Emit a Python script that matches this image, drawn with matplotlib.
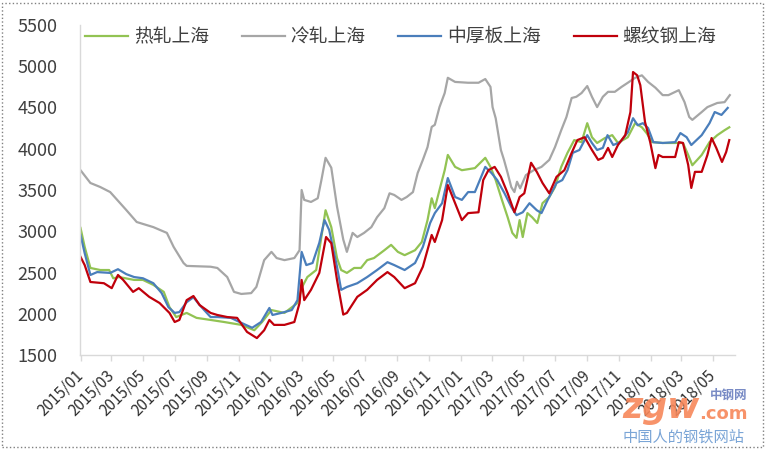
import numpy as np
import pandas as pd
import matplotlib
matplotlib.use("Agg")
import matplotlib.pyplot as plt
import matplotlib.dates as mdates
from matplotlib.patches import Rectangle

plt.rcParams['font.family'] = ['Noto Sans CJK SC', 'DejaVu Sans']

# 热轧上海
hot_dates = ["2015-01-01", "2015-01-09", "2015-01-20", "2015-02-08", "2015-02-25", "2015-03-05", "2015-03-16",
             "2015-04-14", "2015-05-01", "2015-05-21", "2015-06-10", "2015-06-21", "2015-07-04", "2015-07-24",
             "2015-08-12", "2015-09-08", "2015-10-04", "2015-11-06", "2015-12-01", "2015-12-16", "2016-01-03",
             "2016-01-28", "2016-02-22", "2016-03-02", "2016-03-12", "2016-03-29", "2016-04-16", "2016-04-27",
             "2016-05-08", "2016-05-16", "2016-05-27", "2016-06-10", "2016-06-23", "2016-07-05", "2016-07-18",
             "2016-08-07", "2016-08-20", "2016-09-02", "2016-09-15", "2016-10-05", "2016-10-18", "2016-10-29",
             "2016-11-06", "2016-11-12", "2016-11-21", "2016-12-01", "2016-12-07", "2016-12-21", "2017-01-03",
             "2017-01-28", "2017-02-17", "2017-02-27", "2017-03-09", "2017-03-21", "2017-04-01", "2017-04-10",
             "2017-04-18", "2017-04-24", "2017-04-30", "2017-05-09", "2017-05-18", "2017-05-28", "2017-06-07",
             "2017-06-20", "2017-07-01", "2017-07-13", "2017-07-25", "2017-08-07", "2017-08-21", "2017-09-01",
             "2017-09-10", "2017-09-20", "2017-10-05", "2017-10-19", "2017-10-30", "2017-11-18", "2017-12-02",
             "2017-12-15", "2017-12-24", "2018-01-04", "2018-01-24", "2018-03-04", "2018-03-14", "2018-03-22",
             "2018-04-09", "2018-04-24", "2018-05-09", "2018-05-23", "2018-06-01"]
hot_vals = [3040, 2810, 2555, 2530, 2530, 2430, 2445,
            2410, 2410, 2350, 2265, 2080, 1960, 2010,
            1950, 1925, 1900, 1865, 1800, 1900, 2045,
            2010, 2130, 2325, 2445, 2530, 3255, 3050,
            2675, 2530, 2495, 2555, 2555, 2650, 2675,
            2770, 2835, 2750, 2710, 2770, 2870, 3135,
            3400, 3280, 3500, 3740, 3925, 3780, 3740,
            3765, 3890, 3780, 3620, 3380, 3170, 2980,
            2920, 3135, 2930, 3220, 3170, 3100, 3340,
            3415, 3535, 3780, 3950, 4105, 4080, 4310,
            4140, 4070, 4130, 4165, 4070, 4140, 4310,
            4260, 4190, 4080, 4070, 4070, 3925, 3800,
            3925, 4080, 4165, 4225, 4260]

# 冷轧上海
cold_dates = ["2015-01-01", "2015-01-20", "2015-02-08", "2015-02-27", "2015-03-30", "2015-04-19", "2015-05-21",
              "2015-06-16", "2015-06-29", "2015-07-18", "2015-07-24", "2015-09-08", "2015-09-21", "2015-10-10",
              "2015-10-23", "2015-11-06", "2015-11-25", "2015-12-05", "2015-12-20", "2016-01-03", "2016-01-13",
              "2016-01-28", "2016-02-16", "2016-02-26", "2016-03-01", "2016-03-06", "2016-03-19", "2016-04-01",
              "2016-04-08", "2016-04-16", "2016-04-27", "2016-05-08", "2016-05-20", "2016-05-27", "2016-06-07",
              "2016-06-16", "2016-06-29", "2016-07-13", "2016-07-24", "2016-08-07", "2016-08-17", "2016-08-26",
              "2016-09-09", "2016-09-19", "2016-10-01", "2016-10-10", "2016-10-20", "2016-10-29", "2016-11-06",
              "2016-11-12", "2016-11-21", "2016-12-01", "2016-12-07", "2016-12-21", "2017-01-15", "2017-02-04",
              "2017-02-17", "2017-02-27", "2017-03-03", "2017-03-09", "2017-03-19", "2017-03-25", "2017-04-01",
              "2017-04-08", "2017-04-14", "2017-04-19", "2017-04-25", "2017-05-06", "2017-05-21", "2017-06-05",
              "2017-06-20", "2017-07-01", "2017-07-13", "2017-07-23", "2017-08-02", "2017-08-11", "2017-08-21",
              "2017-09-01", "2017-09-10", "2017-09-20", "2017-10-01", "2017-10-11", "2017-10-24", "2017-11-06",
              "2017-11-18", "2017-12-02", "2017-12-15", "2017-12-27", "2018-01-10", "2018-01-24", "2018-02-04",
              "2018-02-24", "2018-03-07", "2018-03-16", "2018-03-22", "2018-04-09", "2018-04-20", "2018-05-09",
              "2018-05-23", "2018-06-02"]
cold_vals = [3740, 3585, 3536, 3475, 3257, 3112, 3050,
             2980, 2810, 2615, 2580, 2570, 2555, 2445,
             2265, 2240, 2250, 2325, 2650, 2750, 2675,
             2650, 2675, 2770, 3500, 3380, 3355, 3400,
             3620, 3890, 3770, 3300, 2900, 2750, 2980,
             2930, 2980, 3050, 3170, 3280, 3460, 3440,
             3380, 3415, 3475, 3705, 3865, 4020, 4265,
             4290, 4505, 4675, 4860, 4810, 4800, 4800,
             4845, 4750, 4505, 4370, 3985, 3865, 3705,
             3535, 3475, 3600, 3520, 3680, 3740, 3780,
             3865, 4020, 4225, 4385, 4615, 4630, 4675,
             4760, 4630, 4505, 4630, 4690, 4690, 4750,
             4800, 4860, 4890, 4810, 4740, 4650, 4650,
             4710, 4565, 4385, 4350, 4445, 4505, 4555,
             4565, 4650]

# 中厚板上海
plate_dates = ["2015-01-01", "2015-01-09", "2015-01-20", "2015-02-02", "2015-02-27", "2015-03-14", "2015-03-30",
               "2015-04-14", "2015-05-01", "2015-05-21", "2015-06-06", "2015-06-19", "2015-07-01", "2015-07-10",
               "2015-07-24", "2015-08-06", "2015-08-18", "2015-09-08", "2015-09-21", "2015-10-17", "2015-11-06",
               "2015-11-27", "2015-12-14", "2015-12-30", "2016-01-05", "2016-01-22", "2016-02-11", "2016-02-22",
               "2016-03-01", "2016-03-10", "2016-03-22", "2016-04-04", "2016-04-14", "2016-04-23", "2016-05-08",
               "2016-05-16", "2016-05-27", "2016-06-16", "2016-07-05", "2016-07-24", "2016-08-13", "2016-08-26",
               "2016-09-15", "2016-10-05", "2016-10-20", "2016-11-03", "2016-11-12", "2016-11-26", "2016-12-07",
               "2016-12-21", "2017-01-03", "2017-01-15", "2017-01-28", "2017-02-17", "2017-03-01", "2017-03-12",
               "2017-03-26", "2017-04-08", "2017-04-18", "2017-04-30", "2017-05-13", "2017-05-27", "2017-06-05",
               "2017-06-17", "2017-07-04", "2017-07-15", "2017-07-25", "2017-08-04", "2017-08-17", "2017-09-01",
               "2017-09-10", "2017-09-20", "2017-10-01", "2017-10-10", "2017-10-21", "2017-11-03", "2017-11-18",
               "2017-11-28", "2017-12-07", "2017-12-17", "2017-12-27", "2018-01-06", "2018-01-24", "2018-02-17",
               "2018-02-27", "2018-03-11", "2018-03-20", "2018-04-09", "2018-04-24", "2018-05-04", "2018-05-17",
               "2018-05-29"]
plate_vals = [2955, 2735, 2470, 2505, 2495, 2540, 2480,
              2445, 2430, 2370, 2250, 2080, 2010, 2020,
              2140, 2200, 2105, 1960, 1960, 1950, 1890,
              1830, 1900, 2070, 1985, 2010, 2045, 2165,
              2750, 2590, 2615, 2860, 3135, 3015, 2570,
              2290, 2325, 2370, 2445, 2530, 2625, 2590,
              2530, 2615, 2810, 3100, 3220, 3340, 3645,
              3415, 3380, 3475, 3475, 3780, 3705, 3620,
              3460, 3295, 3195, 3230, 3340, 3255, 3220,
              3380, 3585, 3620, 3740, 3950, 3985, 4165,
              4070, 3985, 4010, 4165, 4045, 4080, 4200,
              4370, 4285, 4310, 4250, 4080, 4070, 4080,
              4190, 4140, 4045, 4165, 4310, 4445, 4410,
              4495]

# 螺纹钢上海
rebar_dates = ["2015-01-01", "2015-01-09", "2015-01-20", "2015-02-15", "2015-03-02", "2015-03-14", "2015-03-24",
               "2015-04-12", "2015-04-23", "2015-05-13", "2015-06-02", "2015-06-21", "2015-07-01", "2015-07-10",
               "2015-07-24", "2015-08-06", "2015-08-18", "2015-09-08", "2015-09-21", "2015-10-10", "2015-10-29",
               "2015-11-17", "2015-12-06", "2015-12-20", "2015-12-30", "2016-01-08", "2016-01-28", "2016-02-16",
               "2016-02-26", "2016-03-01", "2016-03-06", "2016-03-19", "2016-04-04", "2016-04-17", "2016-04-27",
               "2016-05-08", "2016-05-20", "2016-05-27", "2016-06-16", "2016-07-05", "2016-07-24", "2016-08-13",
               "2016-08-26", "2016-09-15", "2016-10-05", "2016-10-20", "2016-11-06", "2016-11-12", "2016-11-26",
               "2016-12-07", "2016-12-21", "2017-01-03", "2017-01-15", "2017-02-04", "2017-02-13", "2017-02-23",
               "2017-03-07", "2017-03-19", "2017-04-01", "2017-04-14", "2017-04-24", "2017-05-03", "2017-05-16",
               "2017-05-27", "2017-06-07", "2017-06-20", "2017-07-04", "2017-07-19", "2017-08-02", "2017-08-13",
               "2017-08-27", "2017-09-10", "2017-09-22", "2017-10-01", "2017-10-11", "2017-10-19", "2017-10-30",
               "2017-11-13", "2017-11-23", "2017-11-28", "2017-12-06", "2017-12-12", "2017-12-21", "2017-12-31",
               "2018-01-10", "2018-01-16", "2018-01-24", "2018-02-17", "2018-02-24", "2018-03-04", "2018-03-14",
               "2018-03-20", "2018-03-27", "2018-04-09", "2018-04-20", "2018-04-28", "2018-05-07", "2018-05-18",
               "2018-05-26", "2018-06-01"]
rebar_vals = [2690, 2590, 2385, 2370, 2310, 2470, 2410,
              2265, 2310, 2205, 2130, 2010, 1900, 1925,
              2165, 2215, 2105, 2010, 1985, 1960, 1950,
              1780, 1705, 1800, 1925, 1865, 1865, 1900,
              2130, 2410, 2165, 2290, 2495, 2930, 2855,
              2410, 1990, 2010, 2205, 2290, 2410, 2505,
              2445, 2310, 2370, 2570, 2955, 2870, 3135,
              3560, 3340, 3135, 3220, 3230, 3620, 3740,
              3780, 3660, 3460, 3230, 3415, 3460, 3830,
              3720, 3585, 3460, 3660, 3740, 3950, 4105,
              4140, 3985, 3865, 3890, 4010, 3900, 4045,
              4165, 4445, 4930, 4890, 4770, 4325, 4080,
              3765, 3925, 3900, 3900, 4080, 4070, 3805,
              3525, 3720, 3720, 3925, 4130, 4010, 3840,
              3960, 4105]

series_names = ["热轧上海", "冷轧上海", "中厚板上海", "螺纹钢上海"]
series_colors = ["#92C353", "#A6A6A6", "#4A7EBB", "#C0000B"]
tick_months = pd.date_range("2015-01-01", "2018-05-01", freq="2MS")

fig = plt.figure(figsize=(7.66, 4.5), dpi=100)
ax = fig.add_axes([80 / 766, 1 - 355 / 450, 655 / 766, 330 / 450])

all_dates = [hot_dates, cold_dates, plate_dates, rebar_dates]
all_vals = [hot_vals, cold_vals, plate_vals, rebar_vals]
for d, v, name, c in zip(all_dates, all_vals, series_names, series_colors):
    ax.plot(pd.to_datetime(d), v, color=c, lw=1.6, label=name, solid_joinstyle='round')

ax.set_ylim(1500, 5500)
ax.set_yticks(np.arange(1500, 5501, 500))
ax.set_xlim(pd.Timestamp("2014-12-31"), pd.Timestamp("2018-06-12"))
ax.set_xticks(mdates.date2num(tick_months))
ax.set_xticklabels([t.strftime("%Y/%m") for t in tick_months], rotation=45,
                   ha="right", va="center", rotation_mode="anchor")

for s in ["top", "right"]:
    ax.spines[s].set_visible(False)
for s in ["left", "bottom"]:
    ax.spines[s].set_color("#D9D9D9")
    ax.spines[s].set_linewidth(1.0)

ax.tick_params(axis="y", length=0, pad=16, labelsize=13, labelcolor="#404040")
ax.tick_params(axis="x", length=4, width=1, color="#D9D9D9", pad=9, labelsize=11, labelcolor="#303030")

leg = ax.legend(loc="center left", bbox_to_anchor=(0.008, 0.964), ncol=4, frameon=False,
                fontsize=13.5, handlelength=2.3, handletextpad=0.3, columnspacing=1.75,
                borderpad=0, borderaxespad=0)
for t in leg.get_texts():
    t.set_color("#404040")

# watermark
fig.text(622 / 766, 1 - 408 / 450, "zgw", color="#F7875A", fontsize=25, fontweight="bold",
         style="italic", va="center", ha="left", alpha=0.9, family="DejaVu Sans")
fig.text(699 / 766, 1 - 414 / 450, ".com", color="#F7875A", fontsize=13, fontweight="bold",
         va="center", ha="left", alpha=0.9, family="DejaVu Sans")
fig.text(747 / 766, 1 - 395 / 450, "中钢网", color="#6A7FBF", fontsize=9, fontweight="bold",
         va="center", ha="right", alpha=0.9)
fig.text(745 / 766, 1 - 437 / 450, "中国人的钢铁网站", color="#6C9BD2", fontsize=11,
         va="center", ha="right", alpha=0.9)

# dotted chart border
fig.patches.append(Rectangle((2 / 766, 3 / 450), 761 / 766, 444 / 450, transform=fig.transFigure,
                             fill=False, ls=":", lw=1, ec="#808080"))

fig.savefig("out.png", dpi=100)
